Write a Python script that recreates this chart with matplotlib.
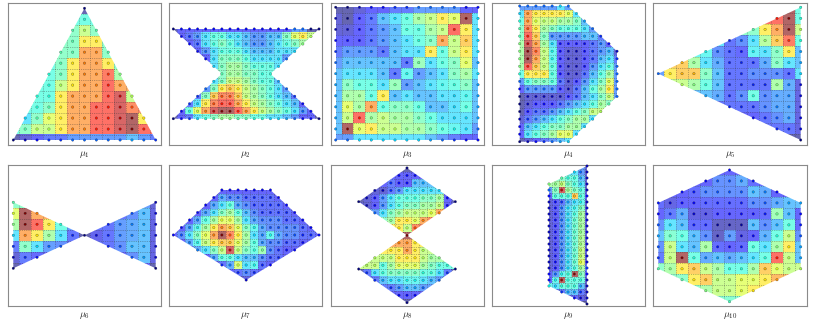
import numpy as np
import matplotlib
matplotlib.use('Agg')
import matplotlib.pyplot as plt
from matplotlib.path import Path
from matplotlib.patches import PathPatch

plt.rcParams['mathtext.fontset'] = 'cm'

W, H = 814, 326

# heat levels 0-9 per grid cell, first row is the top of the panel
mu1_values = [
    [0,0,0,0,0,0,0,0,0,0,0,0,0],
    [3.5,3.5,3.5,3.5,3.5,3.5,3.5,3.5,3.5,3.5,3.5,3.5,3.5],
    [3.5,3.5,3.5,3.5,3.5,4,5,4,3.5,3.5,3.5,3.5,3.5],
    [4,4,4,4,4,4,6,6,4,4,4,4,4],
    [3.5,3.5,3.5,3.5,4,4,7,7,4,4,4,4,4],
    [3.5,3.5,3.5,3.5,4,6,7,7,6,4,4,4,4],
    [3.5,3.5,3.5,3.5,4,6,7,7,7.8,4.5,4.5,4.5,4.5],
    [3.5,3.5,3.5,3.5,5,6,7,7,8,7,7,7,7],
    [3.5,3.5,3.5,3.5,6,7,7,7,8,8.5,5,5,5],
    [3.5,3.5,3.5,4,6,7,7,8,8,8.5,7.5,7.5,7.5],
    [3.5,3,4,5.5,6,7,7,8,8,8.5,9,6,6],
    [3.5,4,5,5,6,7,7,8,8,8.5,9,8,8],
    [0,0.5,1,1.5,1.5,2,2,2,2,2,2.5,2,1.5],
]
mu2_values = [
    [0,1,1,1,1,1,1,1,1,1,1,1,1,1,1,2,2,0,0],
    [1,1,1.5,2,3,3.5,3.5,3,3,2.5,2,2,2.5,2.5,4,5.5,6,5,5],
    [1,1,1,1.5,3,3.5,4,3.5,3,2.5,2,2,2.5,3,3.5,4,4.5,4.5,4.5],
    [1,1,1,1,2,3,3.5,3.5,3.5,3,2.5,2.5,2.5,3,3,3,3,3,3],
    [1,1,1,1,1,3,4,4,4,3.5,3,3,3,3,2,2,2,2,2],
    [3,3,3,3,3,3,4,4.5,4.5,4,3.5,3.5,3.5,3,3,3,3,3,3],
    [4,4,4,4,4,4,4,4.5,4.5,4,4,3.5,3.5,3.5,3.5,3.5,3.5,3.5,3.5],
    [3,3,3,3,3,3,4,5,5,4.5,4,3.5,3.5,2.5,2.5,2.5,2.5,2.5,2.5],
    [2,2,2,2,2,4,6,6.5,6,5,4.5,4,3.5,3,2,2,2,2,2],
    [1.5,1.5,1.5,1.5,4,6.5,7.5,7.5,6.5,5,4.5,4,3.5,3,2.5,1.5,1.5,1.5,1.5],
    [1.5,1.5,1.5,3,6,7.5,8,8,7,6,5,4.5,4,3.5,3,2.5,1,1,1],
    [1,1,3.5,5.5,7,8.5,9,9,8,7,6,5,4.5,4,3.5,3,2,1,1],
    [0,1,1.5,3,3.5,4,4.5,4.5,4,4,3.5,3.5,3,3,2.5,2,1,1,0],
]
mu3_values = [
    [0,0,0.5,1,1,1.5,1.5,2,2,2,2,1,1],
    [0.5,0,1,1.5,2.5,3,3.5,4.5,5,6,5.5,9,3],
    [0.5,0.5,1,1.5,2,2.5,3.5,3.5,4.5,5,8,6,3],
    [1,1,1,1.5,2,2.5,3,3.5,4,7,5,6.5,3],
    [1.5,2,2,2,1.5,2.5,3,3,6,3.5,5,6,3],
    [2,2.5,2.5,2.5,2.5,2.5,1.5,4.2,3,3.5,4,5.5,2.5],
    [2.5,3,3,3,2.5,1.5,3.3,2,2.5,3,4,4.5,3],
    [2.5,4,3.5,3.5,3,4.2,2,2.5,3,3.3,3.5,4,2.5],
    [2.5,4.5,4.5,3.5,6,2.5,3,2.5,2.5,3,3,3.3,2.5],
    [2.5,5.5,4.5,7,3.5,4,4,3.5,2.5,2.5,3,3.5,2.5],
    [2.5,5,8,4.5,5,4.5,4.5,4,3.5,3,3,3,2.5],
    [2.5,9,5.5,6,5,5,4.5,4.5,4,3.5,3.3,3,2],
    [2,2,3,3,3,3,3,3,2.5,2,1.5,1,1],
]
mu4_values = [
    [2,2,2,2,2,3,2,2,2,2,2,2,2],
    [3,7,6,6,6,6,5.5,3,3,3,3,3,3],
    [3.5,7,5.5,5,5,4.5,4.5,4,2.5,2.5,2.5,2.5,2.5],
    [4,7.5,6,4.5,4,3.5,3.5,3.5,3,2,2,2,2],
    [4,8,6.5,4,2,2,2,2,2.5,2.5,1.5,1.5,1.5],
    [4.5,8.5,7,4.5,3,1,1,1,1,1.5,2,1,1],
    [4.5,9,7.5,5,3.3,1,0.5,0.5,1,1.5,2,2.5,0.5],
    [4.5,9,7,5,3.3,1,0.5,0.5,1,1.5,2.5,3,1.5],
    [4.5,8,6.5,5,3.5,1,0.5,0.5,1,2,3,3.5,2],
    [3.5,6,6,6,3.5,1,0.5,0.5,1.5,2.5,3.5,4.5,2],
    [2,3.5,4,4,3.5,1.5,0.5,1,2,3,4,5.5,2],
    [1,2,2,2,2,1,0.5,1.5,2.5,3.5,4.5,6,2],
    [0,0.5,0.5,0.5,0.5,0.5,1,1.5,2.5,3,4,5,2],
    [0,0.5,1,1,1,1.5,2,2.5,3,3.5,4.5,4,4],
    [0,1,1.5,1.5,2,2.5,3,3.5,4,5,5,5,5],
    [0.5,1.5,2,2.5,3,3.5,4,4.5,4.5,3,3,3,3],
    [1,2.5,3,3.5,4,4,4.5,4.5,3,3,3,3,3],
    [1,3,3.5,4,4.5,5.5,5.5,3,3,3,3,3,3],
    [0,0.5,1,1.5,2,2.5,3,3,3,3,3,3,3],
]
mu5_values = [
    [8,8,8,8,8,8,8,8,8,8,8,9,3.5],
    [8,8,8,8,8,8,8,8,8,8,8,9,3.5],
    [4,4,4,4,4,4,4,4,4,6,7,9,5],
    [3,3,3,3,3,3,1.4,1.8,3,4.7,6.5,7.8,3.5],
    [3.3,3.3,3.3,3.3,3.3,1.8,1.4,1.2,3.2,3,4,6,2.5],
    [6.5,6.5,6.5,4.5,3,2.2,1.4,1.4,1.4,2.2,4,3,2.5],
    [2,6,6.5,6.5,4,2.5,1.4,1.4,1.8,1.8,1.8,1.4,3],
    [5,5,5,4.5,3.5,2.5,1.4,1.4,1.4,1.4,4.5,2.2,0.7],
    [2.5,2.5,2.5,2.5,2.5,2.2,1.4,1.8,3.5,1.8,2.2,2.2,0.7],
    [1.4,1.4,1.4,1.4,1.4,1.4,1.4,1.4,1.4,1.8,2.2,2.2,0.7],
    [1,1,1,1,1,1,1,1,1,1.4,1.8,2.2,0.7],
    [1.4,1.4,1.4,1.4,1.4,1.4,1.4,1.4,1.4,1.4,1.4,1.4,0.7],
    [0,0,0,0,0,0,0,0,0,0,0,0,0],
]
mu6_values = [
    [4,4,4,4,2,2,2,2,2,2,2,2,0.5],
    [5.5,9,7,7,4,3,1.4,1.4,1.4,1.4,1.8,2.5,0.7],
    [4.5,9,8,6,3.5,2,1.4,1.4,1.4,2,2.2,2.5,0.7],
    [3,7,6,4.5,3,1.4,0,0.8,1.4,2,2.2,2.5,0.7],
    [1.5,4,3,2,1.8,1.4,1.4,1.4,1.4,1.8,2.5,2.5,0.7],
    [0.5,1.5,1.2,1.2,1.2,1.2,1.2,1.2,1.2,1.2,1.8,2.5,0.7],
    [0,1.2,1.2,1.2,1.2,1.2,1.2,1.2,1.2,1.2,1.2,1.2,0],
]
mu7_values = [
    [1,1,1,1,1,1,1,1,1,1,1,1,1,1,1,1,1,1,1],
    [1,1,1,1,1,1,2.2,1.8,1.8,1.4,1.4,1.4,1.4,1,1,1,1,1,1],
    [1,1,1,1,1,2.2,3,3.5,2.2,1.8,1.4,1.4,1.4,1.4,1,1,1,1,1],
    [1,1,1,1,2.2,3,4,4.5,3.5,2.5,1.8,1.4,1.4,1.4,1.4,1,1,1,1],
    [1,1,1,2.2,3.5,4.5,5.5,5.5,4.5,3,2.2,1.8,1.8,1.8,1.4,1.4,1,1,1],
    [1,1,2.2,3.3,4.5,6,7,6.5,5.5,4,3.3,2.2,1.8,1.8,1.8,1.8,1.4,1,1],
    [1,1.8,3,4,5.5,7,9,7.5,6,4.5,3,2.2,3.3,2.2,1.8,1.8,1.4,1.4,1],
    [1,1,2.2,3.3,5,6,6.5,6.5,5.5,4.5,3.5,2.2,1.8,1.8,1.4,1.4,1,1,1],
    [1,1,1,2.2,3,4,5,8.5,5,4,3.5,4.3,1.8,1.4,1,1,1,1,1],
    [1,1,1,1,1,2.2,3.5,3.5,3,2.5,2.5,1.8,1.4,1.4,1,1,1,1,1],
    [1,1,1,1,1,1,1.4,2.2,5.3,3,3.3,1.4,1,1,1,1,1,1,1],
    [1,1,1,1,1,1,1,1,1.4,1.8,1.4,1,1,1,1,1,1,1,1],
    [0.7,0.7,0.7,0.7,0.7,0.7,0.7,0.7,0.7,0.7,0.7,0.7,0.7,0.7,0.7,0.7,0.7,0.7,0.7],
]
mu8_values = [
    [0,0,0,0,0,0,0,0,0,0,0,0,0],
    [1,1,1,1,1,1,1,1,1,1,1,1,1],
    [1,1,1,1,1.5,1,1,2.5,2.5,2.5,2.5,2.5,2.5],
    [0.5,0.5,0.5,0.5,1.5,2,3,3,3,3,3,3,3],
    [0,0.5,1,2,3,3.5,3.5,3.5,4,4,4.5,1,0],
    [0.5,0.5,1,2,3,3.5,4,4,4.5,4.5,5,1,0.5],
    [2,2,2,3,4,4.5,5,5,5,5.5,7,7,7],
    [4,4,4,4,4.5,6,6,5.5,7,7.5,7.5,7.5,7.5],
    [6,6,6,6,6,6,5,7.5,7.5,7.5,7.5,7.5,7.5],
    [9,9,9,9,9,9,9,9,9,9,9,9,9],
    [7,7,7,7,7,7,7,6,6,6,6,6,6],
    [6,6,6,6,6,6,7,6,5,5,5,5,5],
    [5,5,5,5,5,6,6,6,5,4.5,4.5,4.5,4.5],
    [5,5,5,3.5,4.5,5.5,5.5,5.5,4.5,4,3.5,3.5,3.5],
    [0,1.5,3,3.5,4,4,4,4,3.5,3.5,3,1.5,0],
    [1.5,1.5,1.5,2.5,3,3,3.3,3.3,3,2.5,2,2,2],
    [1.5,1.5,1.5,1.5,1.5,2,2.5,2.5,2,2,2,2,2],
    [1,1,1,1,1,1,1,1,1,1,1,1,1],
    [0,0,0,0,0,0,0,0,0,0,0,0,0],
]
mu9_values = [
    [3,3,3,3,3,2,0.5],
    [3,3,3,3,3,2,0.5],
    [4,4,4,3.5,3.5,2.5,0.5],
    [4.5,4.5,5,4,3.5,3,0.5],
    [2,4,8.5,4.5,4,3.5,0.5],
    [1,3.5,3.5,3.5,6.5,3.5,1],
    [0.5,1,1.5,2.5,3,3.3,0.5],
    [0.5,1,2,3,3.3,4,0.7],
    [0.5,1,2,3,3.5,4.5,0.7],
    [0.5,1,2,3,3.7,4.5,0.7],
    [0.5,1,2,3,3.7,4.5,0.7],
    [0.5,1,2,3,3.7,4.5,0.7],
    [0.5,1,2,3,3.7,4.7,0.7],
    [0.5,1,2,3,3.7,4.7,0.7],
    [0.5,1,2,3,3.7,5,0.7],
    [0.5,1,2,3,3.7,5,0.7],
    [0.5,1,2,3,3.7,5.5,0.7],
    [0.5,1,2,3,3.5,4.5,1.5],
    [1,2,3.3,3.5,9,4,1],
    [1,3.3,8.8,3.5,3.5,3.5,0.5],
    [3.3,3,3.5,3.5,3.5,2.5,0.5],
    [1.5,1.5,1.5,2.5,2.5,1.5,0.5],
    [1,1,1,1,1,0.7,0.5],
    [0,0,0,0,0,0,0],
]
mu10_values = [
    [1,1,1,1,1,1,1,1,1,1,1,1,1],
    [1,1,1,1,1,1.8,1.8,2.2,1.3,1.3,1.3,1.3,1.3],
    [1,1,1,1.3,1.8,1.8,1.8,1.8,2.5,2.2,1,1,1],
    [1.3,0.7,1,1,1.3,1.3,1.3,1.3,1.8,1.8,2.2,2.5,2.5],
    [1,1.5,2.2,0.7,0.7,1,1,1,1,1.3,4.3,2.5,1],
    [1.8,3,2.5,1.3,1.3,0.3,0.3,0.3,2.5,1.8,2.5,3.5,1.3],
    [2.5,3.8,3.5,2.5,1.8,0.3,2,0.7,1,2.3,3.5,5,1.8],
    [1.8,5,3,2.5,4.5,1.3,1,1.3,3.5,3,4.5,6,2.5],
    [1.5,5,9,3.5,2.2,2.5,2.2,2.5,3,3.5,8,5,2.5],
    [4,4.5,6,6.5,5,4.5,3.5,3.5,4.5,6.5,5.5,5,5],
    [4,4,4,6,6.5,5,5,5.5,5.5,6,6.8,6.8,6.8],
    [4,4,4,4,4.5,5,5,5.5,6,6,6,6,6],
    [3.8,3.8,3.8,3.8,3.8,3.8,3.8,3.8,3.8,3.8,3.8,3.8,3.8],
]

# domain outlines in grid units, (column, row counted from the bottom)
mu1_shape = [(0, 0), (12, 0), (6, 12)]
mu2_shape = [(0, 12), (18, 12), (12, 6), (18, 0), (0, 0), (6, 6)]
mu3_shape = [(0, 0), (12, 0), (12, 12), (0, 12)]
mu4_shape = [(0, 18), (6, 18), (12, 12), (12, 6), (6, 0), (0, 0)]
mu5_shape = [(0, 6), (12, 12), (12, 0)]
mu6_shape = [(0, 6), (6, 3), (12, 6), (12, 0), (6, 3), (0, 0)]
mu7_shape = [(6, 12), (12, 12), (18, 6), (9, 0), (0, 6)]
mu8_shape = [(6, 18), (12, 13.5), (6, 9), (12, 4.5), (6, 0), (0, 4.5), (6, 9), (0, 13.5)]
mu9_shape = [(6, 23), (0, 20), (0, 3), (6, 0)]
mu10_shape = [(6, 12), (12, 9), (12, 3), (6, 0), (0, 3), (0, 9)]

labels = ['1', '2', '3', '4', '5', '6', '7', '8', '9', '10']
all_values = [mu1_values, mu2_values, mu3_values, mu4_values, mu5_values,
              mu6_values, mu7_values, mu8_values, mu9_values, mu10_values]
all_shapes = [mu1_shape, mu2_shape, mu3_shape, mu4_shape, mu5_shape,
              mu6_shape, mu7_shape, mu8_shape, mu9_shape, mu10_shape]

# pixel boxes: panel frame (left, right, top, bottom), grid points (first col, last col, top row, bottom row)
frames = [(8, 161, 3, 145), (168.5, 322, 3, 145), (331, 484, 3, 145), (492, 645, 3, 145), (653, 807, 3, 145),
          (8, 161, 165, 306), (168.5, 322, 165, 306), (331, 484, 165, 306), (492, 645, 165, 306), (653, 807, 165, 306)]
grids = [(13.3, 155.7, 8.3, 140), (173.3, 319, 29, 118.7), (335.7, 478, 7.3, 140), (519.7, 617, 6, 141.7), (658.3, 800.7, 7.3, 140),
         (13.3, 155.7, 202.3, 268.3), (173.3, 319, 190, 280), (358.7, 455.3, 168, 302.7), (549, 587, 166, 304), (658.3, 800.7, 170, 301.7)]


def draw_panel(fig, values, shape, frame, grid, label):
    left, right, top, bottom = frame
    ax = fig.add_axes([left / W, 1 - bottom / H, (right - left) / W, (bottom - top) / H])
    values = np.array(values, dtype=float)
    rows, cols = values.shape

    # map the frame onto grid units so the cells land on the measured pixels
    sx = (cols - 1) / (grid[1] - grid[0])
    sy = (rows - 1) / (grid[3] - grid[2])
    xlim = ((left - grid[0]) * sx, (right - grid[0]) * sx)
    ylim = ((grid[3] - bottom) * sy, (grid[3] - top) * sy)

    path = Path(list(shape) + [shape[0]], closed=True)
    patch = PathPatch(path, transform=ax.transData, fc='none', ec='none')
    ax.add_patch(patch)

    im = ax.imshow(values, cmap='jet', vmin=0, vmax=9, alpha=0.6, origin='upper', aspect='auto',
                   interpolation='nearest', extent=(-0.5, cols - 0.5, -0.5, rows - 0.5))
    im.set_clip_path(patch)

    for c in range(cols - 1):
        ln, = ax.plot([c + 0.5, c + 0.5], [-0.5, rows - 0.5], color='#333333', lw=0.5, ls=':', alpha=0.65)
        ln.set_clip_path(patch)
    for r in range(rows - 1):
        ln, = ax.plot([-0.5, cols - 0.5], [r + 0.5, r + 0.5], color='#333333', lw=0.5, ls=':', alpha=0.65)
        ln.set_clip_path(patch)

    xx, yy = np.meshgrid(np.arange(cols), np.arange(rows))
    pts = np.column_stack([xx.ravel(), yy.ravel()])
    inside = path.contains_points(pts, radius=0.02) | path.contains_points(pts, radius=-0.02)
    px = pts[inside]
    # outline corners get a point too, some fall between grid rows
    px = np.unique(np.vstack([px, np.array(shape, dtype=float)]), axis=0)
    level = values[rows - 1 - np.round(px[:, 1]).astype(int), np.round(px[:, 0]).astype(int)]
    ax.scatter(px[:, 0], px[:, 1], c=level, cmap='jet', vmin=0, vmax=9, s=3.2, edgecolors='#333333',
               linewidths=0.2, zorder=3, clip_on=False)

    ax.set_xlim(xlim)
    ax.set_ylim(ylim)
    ax.set_xticks([])
    ax.set_yticks([])
    for s in ax.spines.values():
        s.set_color('#8a8a8a')
        s.set_linewidth(0.8)

    fig.text((left + right) / 2 / W, 1 - (bottom + 9.5) / H, r'$\mu_{%s}$' % label,
             fontsize=7, color='#222222', ha='center', va='center')


fig = plt.figure(figsize=(W / 100, H / 100), dpi=100)
for i in range(10):
    draw_panel(fig, all_values[i], all_shapes[i], frames[i], grids[i], labels[i])
fig.savefig('out.png', dpi=100)
